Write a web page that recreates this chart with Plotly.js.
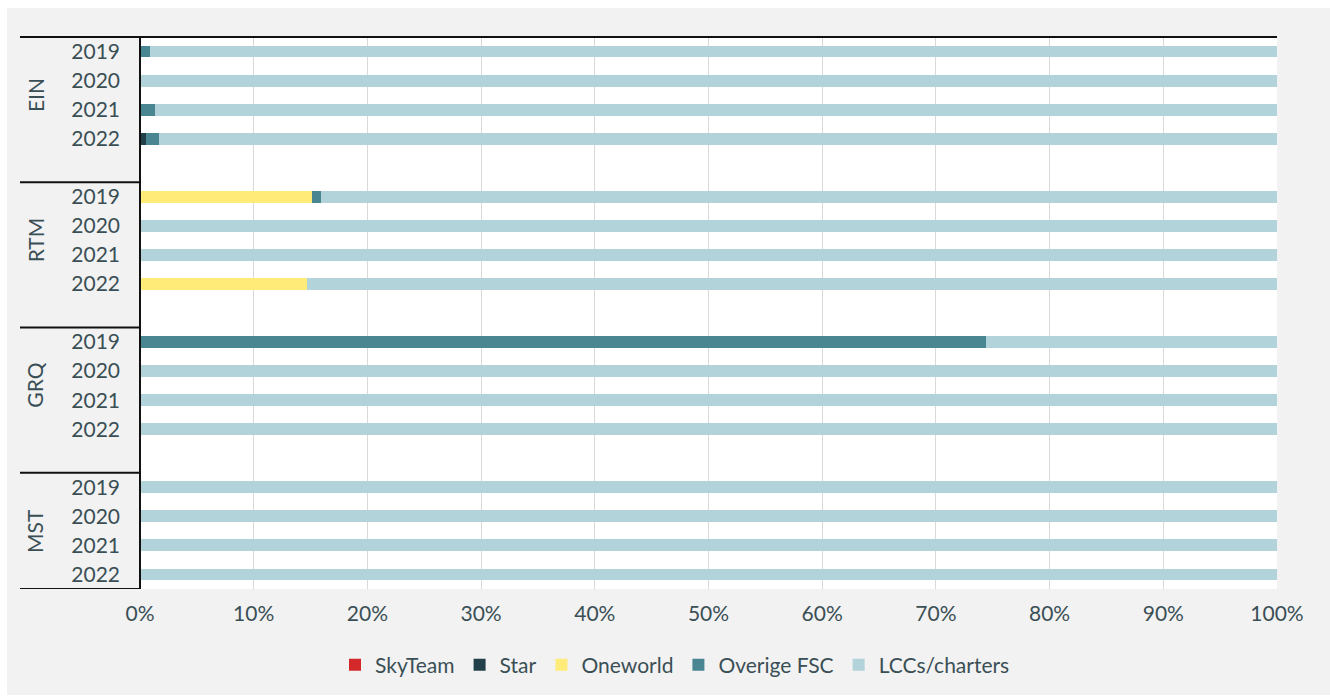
<!DOCTYPE html>
<html>
<head>
<meta charset="utf-8">
<script src="https://cdn.plot.ly/plotly-3.0.1.min.js"></script>
<style>html,body{margin:0;padding:0;background:#fff;}#chart{width:1330px;height:697px;}</style>
</head>
<body>
<div id="chart"></div>
<script>
// ---- data ----
const groups = ['EIN', 'RTM', 'GRQ', 'MST'];
const years = ['2019', '2020', '2021', '2022'];
const seriesNames = ['SkyTeam', 'Star', 'Oneworld', 'Overige FSC', 'LCCs/charters'];
// values per group (EIN, RTM, GRQ, MST) x year (2019..2022), in %
const skyTeam   = [0, 0, 0, 0,        0, 0, 0, 0,          0, 0, 0, 0,      0, 0, 0, 0];
const star      = [0, 0, 0, 0.55,     0, 0, 0, 0,          0, 0, 0, 0,      0, 0, 0, 0];
const oneworld  = [0, 0, 0, 0,        15.15, 0, 0, 14.66,  0, 0, 0, 0,      0, 0, 0, 0];
const overigeFSC= [0.9, 0, 1.35, 1.1, 0.77, 0, 0, 0,       74.4, 0, 0, 0,   0, 0, 0, 0];
const lccs      = [99.1, 100, 98.65, 98.35, 84.08, 100, 100, 85.34, 25.6, 100, 100, 100, 100, 100, 100, 100];

// ---- styles ----
const colors = ['#d3292b', '#22404a', '#ffeb78', '#4a8592', '#b1d3d9'];
const textColor = '#3a4f55';
const fontFam = 'Lato, "Open Sans", sans-serif';
const fontW = 400;

// row positions: 4 bars per group plus one blank row between groups
const rowOf = [];
const yearLabels = [];
groups.forEach((g, gi) => years.forEach((yr, yi) => { rowOf.push(gi * 5 + yi); yearLabels.push(yr); }));

const valuesList = [skyTeam, star, oneworld, overigeFSC, lccs];
const traces = valuesList.map((vals, i) => ({
  type: 'bar',
  orientation: 'h',
  name: seriesNames[i],
  x: vals,
  y: rowOf,
  width: 0.41,
  marker: {color: colors[i], line: {width: 0}},
  hoverinfo: 'name+x'
}));

const plotL = 140, plotR = 1277, plotT = 37, plotB = 589;
const W = 1330, H = 697;
const pw = plotR - plotL, ph = plotB - plotT;
const px = v => (v - plotL) / pw;
const py = v => (plotB - v) / ph;

const shapes = [
  {type: 'rect', xref: 'paper', yref: 'paper', x0: px(7), x1: px(1330), y0: py(695), y1: py(8),
   fillcolor: '#f2f2f2', line: {width: 0}, layer: 'below'},
  {type: 'rect', xref: 'paper', yref: 'paper', x0: 0, x1: 1, y0: 0, y1: 1,
   fillcolor: '#ffffff', line: {width: 0}, layer: 'below'},
  {type: 'line', xref: 'paper', yref: 'paper', x0: px(20), x1: 1, y0: 1, y1: 1,
   line: {color: '#111', width: 2}},
  {type: 'line', xref: 'paper', yref: 'paper', x0: 0, x1: 0, y0: 0, y1: 1,
   line: {color: '#111', width: 2}}
];
groups.forEach((g, gi) => {
  const yb = gi === groups.length - 1 ? gi * 5 + 3.5 : gi * 5 + 4.5;
  shapes.push({type: 'line', xref: 'paper', yref: 'y', x0: px(20), x1: 0, y0: yb, y1: yb,
    line: {color: '#111', width: 2}});
});

const annotations = groups.map((g, gi) => ({
  xref: 'paper', yref: 'y', x: px(35), y: gi * 5 + 1.5, text: g, textangle: -90,
  showarrow: false, xanchor: 'center', yanchor: 'middle',
  font: {family: fontFam, size: 21, weight: fontW, color: textColor}
}));

const layout = {
  width: W, height: H,
  margin: {l: plotL, r: W - plotR, t: plotT, b: H - plotB, pad: 0},
  paper_bgcolor: '#ffffff',
  plot_bgcolor: 'rgba(0,0,0,0)',
  barmode: 'stack',
  showlegend: true,
  legend: {orientation: 'h', x: px(675), xanchor: 'center', y: py(665), yanchor: 'middle',
    bgcolor: 'rgba(0,0,0,0)', traceorder: 'normal',
    font: {family: fontFam, size: 21, weight: fontW, color: textColor}},
  xaxis: {range: [0, 100], dtick: 10, ticksuffix: '%', showgrid: true, gridcolor: '#d9d9d9', gridwidth: 1,
    zeroline: false, showline: false, ticks: '', ticklabelstandoff: 10, fixedrange: true,
    tickfont: {family: fontFam, size: 21, weight: fontW, color: textColor}},
  yaxis: {range: [18.5, -0.5], tickvals: rowOf, ticktext: yearLabels, showgrid: false, zeroline: false,
    showline: false, ticks: '', ticklabelstandoff: 19, fixedrange: true,
    tickfont: {family: fontFam, size: 21, weight: fontW, color: textColor}},
  shapes: shapes,
  annotations: annotations,
  font: {family: fontFam, weight: fontW, color: textColor}
};

Plotly.newPlot('chart', traces, layout, {displayModeBar: false, staticPlot: false});
</script>
</body>
</html>
